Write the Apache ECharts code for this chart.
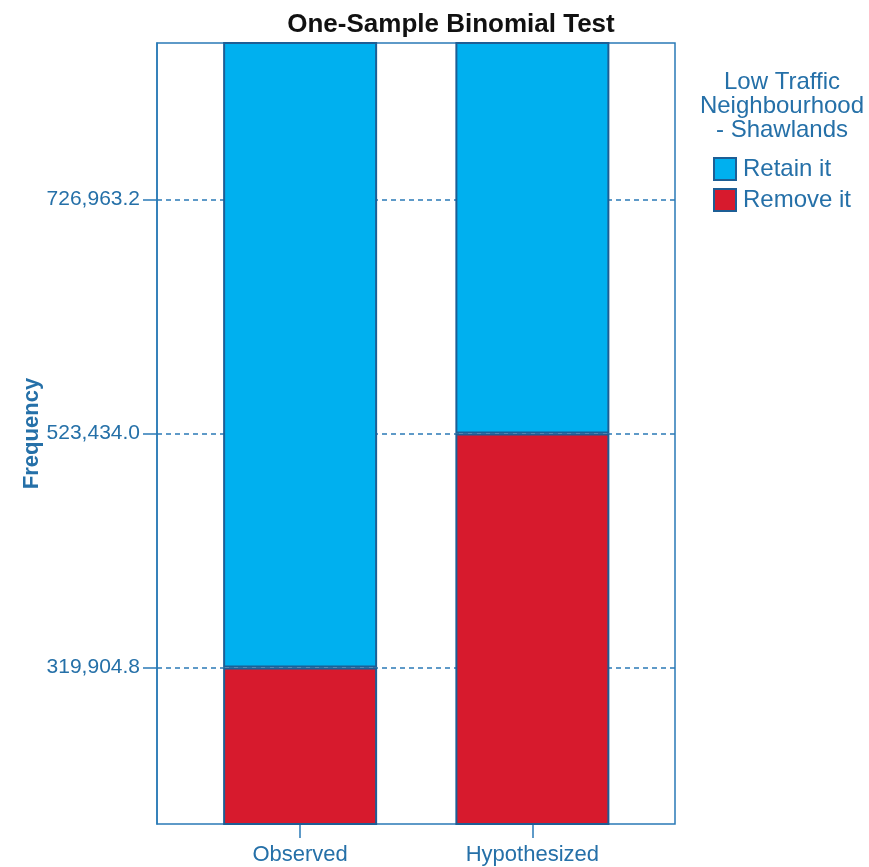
<!DOCTYPE html>
<html>
<head>
<meta charset="utf-8">
<script src="https://cdn.jsdelivr.net/npm/echarts@6/dist/echarts.min.js"></script>
<style>html,body{margin:0;padding:0;background:#fff;}#c{width:869px;height:867px;}</style>
</head>
<body>
<div id="c"></div>
<script>
var categories = ['Observed', 'Hypothesized'];
var retainValues = [726963.2, 523434.0];
var removeValues = [319904.8, 523434.0];
var yTicks = [319904.8, 523434.0, 726963.2];
var legendTitle = 'Low Traffic\nNeighbourhood\n- Shawlands';

var axisBlue = '#2a7ab6';
var textBlue = '#2570a8';
var yMin = 183783, yMax = 863085;
var fmt = function (v) {
  return Number(v).toLocaleString('en-US', {minimumFractionDigits: 1, maximumFractionDigits: 1});
};
var chart = echarts.init(document.getElementById('c'), null, {renderer: 'canvas'});
chart.setOption({
  animation: false,
  backgroundColor: '#fff',
  textStyle: {fontFamily: 'Liberation Sans, Arial, sans-serif'},
  title: [{
    text: 'One-Sample Binomial Test',
    left: 446, top: 7, textAlign: 'center',
    textStyle: {fontSize: 26, fontWeight: 'bold', color: '#111', fontFamily: 'Liberation Sans, Arial, sans-serif'}
  }, {
    text: legendTitle,
    left: 777, top: 65, textAlign: 'center',
    textStyle: {fontSize: 24, fontWeight: 'normal', color: textBlue, lineHeight: 24, align: 'center', fontFamily: 'Liberation Sans, Arial, sans-serif'}
  }],
  legend: {
    data: ['Retain it', 'Remove it'],
    orient: 'vertical',
    left: 713, top: 157, padding: 0,
    icon: 'rect', itemWidth: 22, itemHeight: 22, itemGap: 7,
    textStyle: {fontSize: 24, color: textBlue, padding: [0, 0, 0, 2]},
    selectedMode: false
  },
  grid: [{
    left: 157, right: 194, top: 43, bottom: 43,
    show: true, borderColor: axisBlue, borderWidth: 1.5, backgroundColor: '#fff'
  }, {
    left: 184, width: 464.5, top: 43, bottom: 43
  }],
  xAxis: [{
    gridIndex: 0, type: 'value', show: false
  }, {
    gridIndex: 1, type: 'category', data: categories,
    axisLine: {show: false},
    axisTick: {show: true, alignWithLabel: true, length: 14, lineStyle: {color: axisBlue, width: 1.5}},
    axisLabel: {margin: 20, fontSize: 22, color: textBlue},
    splitLine: {show: false}
  }],
  yAxis: [{
    gridIndex: 0, type: 'value', min: yMin, max: yMax,
    name: 'Frequency', nameLocation: 'middle', nameGap: 114, nameMoveOverlap: false,
    nameTextStyle: {fontSize: 22, fontWeight: 'bold', color: textBlue},
    axisLine: {show: true, lineStyle: {color: axisBlue, width: 1.5}},
    axisTick: {show: true, customValues: yTicks, length: 14, lineStyle: {color: axisBlue, width: 1.5}},
    axisLabel: {customValues: yTicks, margin: 17, fontSize: 21, color: textBlue, formatter: fmt},
    splitLine: {show: true, lineStyle: {color: axisBlue, width: 1.5, type: [5, 4]}}
  }, {
    gridIndex: 1, type: 'value', min: yMin, max: yMax, show: false,
    splitLine: {show: false}
  }],
  series: [{
    name: 'Remove it', type: 'bar', stack: 'total', barWidth: 154,
    xAxisIndex: 1, yAxisIndex: 1,
    data: removeValues,
    itemStyle: {color: '#d71a2d', borderColor: '#1d5e95', borderWidth: 2}
  }, {
    name: 'Retain it', type: 'bar', stack: 'total', barWidth: 154,
    xAxisIndex: 1, yAxisIndex: 1,
    data: retainValues,
    itemStyle: {color: '#00b0ef', borderColor: '#1d5e95', borderWidth: 2}
  }]
});
</script>
</body>
</html>
